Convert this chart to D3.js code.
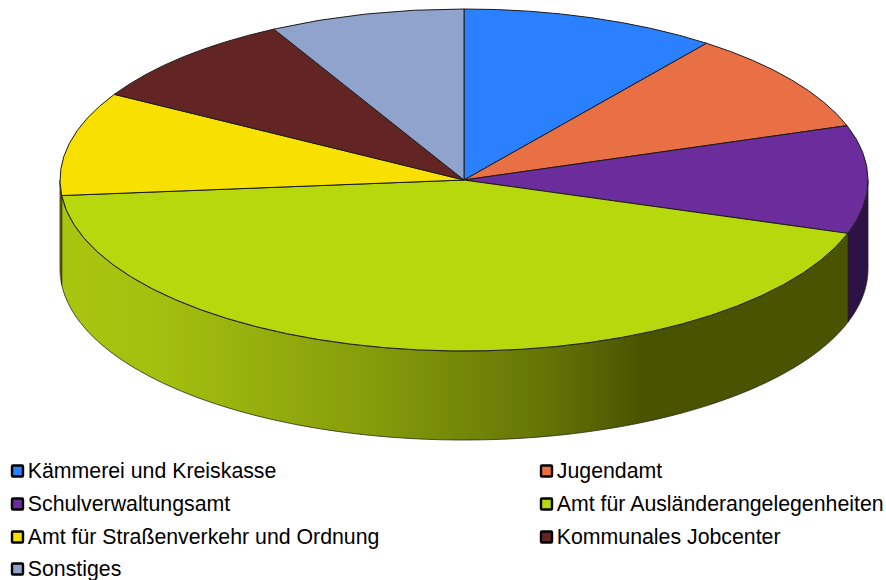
<!DOCTYPE html>
<html><head><meta charset="utf-8">
<script src="https://cdnjs.cloudflare.com/ajax/libs/d3/7.8.5/d3.min.js"></script>
<style>html,body{margin:0;padding:0;background:#fff}svg{display:block}text{font-family:"Liberation Sans",Arial,sans-serif}</style>
</head><body><svg id="c" width="886" height="580"></svg>
<script>
const categories=["Kämmerei und Kreiskasse","Jugendamt","Schulverwaltungsamt","Amt für Ausländerangelegenheiten","Amt für Straßenverkehr und Ordnung","Kommunales Jobcenter","Sonstiges"];
const values=[10.25,9.6,10.2,43.5,9.8,8.85,7.8];
const colors=["#2a80ff","#e97044","#6b2c9c","#b6d80c","#f8e000","#632424","#8fa3cc"];
const sideColors=["#153f80","#743822","#2c1245","#4a5200","#7c7000","#311212","#475166"];

const cx=464,cy=180,rx=404,ry=171,depth=89;
const svg=d3.select("#c");
const arcs=d3.pie().sort(null).value(d=>d)(values);
const px=a=>cx+rx*Math.sin(a), py=a=>cy-ry*Math.cos(a);

const defs=svg.append("defs");
const grad=defs.append("linearGradient").attr("id","wall").attr("gradientUnits","userSpaceOnUse")
  .attr("x1",cx-rx).attr("x2",cx+rx).attr("y1",0).attr("y2",0);
[[0,"#a8c510"],[0.12,"#a4c00f"],[0.38,"#869d0b"],[0.6,"#647506"],[0.72,"#4a5400"],[1,"#4a5400"]]
  .forEach(([o,c])=>grad.append("stop").attr("offset",o).attr("stop-color",c));

const line=d3.line();
const wall=svg.append("g");
arcs.forEach((d,i)=>{
  const a0=Math.max(d.startAngle,Math.PI/2),a1=Math.min(d.endAngle,Math.PI*1.5);
  if(a1<=a0)return;
  const steps=d3.range(0,121).map(k=>a0+(a1-a0)*k/120);
  const top=steps.map(a=>[px(a),py(a)]);
  const bot=steps.slice().reverse().map(a=>[px(a),py(a)+depth]);
  wall.append("path").attr("d",line(top.concat(bot))+"Z")
    .attr("fill",i===3?"url(#wall)":sideColors[i])
    .attr("stroke","#2a2a1a").attr("stroke-width",0.8).attr("stroke-linejoin","round");
});

const arcGen=d3.arc().innerRadius(0).outerRadius(rx);
svg.append("g").attr("transform",`translate(${cx},${cy}) scale(1,${ry/rx})`)
  .selectAll("path").data(arcs).join("path")
  .attr("d",arcGen).attr("fill",(d,i)=>colors[i])
  .attr("stroke","#1c1c1c").attr("stroke-width",1).attr("vector-effect","non-scaling-stroke");

const legendX=[11,540], rowY=[471,504,537,569];
const lg=svg.append("g");
categories.forEach((c,i)=>{
  const col=i%2,row=Math.floor(i/2);
  const x=legendX[col],y=rowY[row];
  lg.append("rect").attr("x",x+1).attr("y",y-5.5).attr("width",11).attr("height",11)
    .attr("fill",colors[i]).attr("stroke","#000").attr("stroke-width",2.4).attr("rx",1);
  lg.append("text").attr("x",x+16.8).attr("y",y+7).attr("font-size",21.3).attr("fill","#000").text(c);
});
</script></body></html>
